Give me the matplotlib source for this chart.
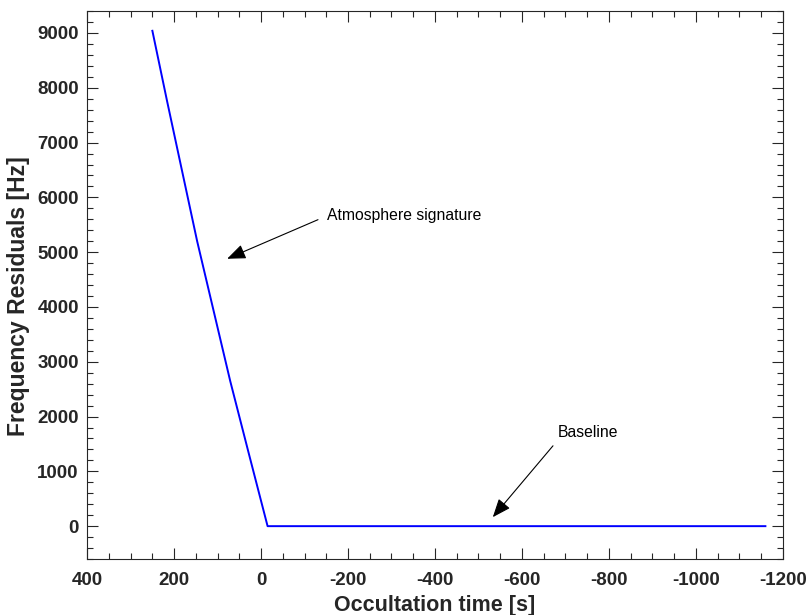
import matplotlib
matplotlib.use("Agg")
import matplotlib.pyplot as plt
from matplotlib.ticker import MultipleLocator

# occultation time [s] and frequency residuals [Hz]
t = [250, 216, 147, 71, 29, -15, -1160]
res = [9040, 7750, 5200, 2650, 1350, 0, 0]

plt.rcParams['font.family'] = ['Liberation Sans', 'DejaVu Sans']
plt.rcParams['axes.unicode_minus'] = False

fig = plt.figure(figsize=(8.07, 6.15), dpi=100)
ax = fig.add_axes([0.108, 0.091, 0.862, 0.891])

ax.plot(t, res, color=(0, 0, 1), linewidth=1.4)

ax.set_xlim(400, -1200)
ax.set_ylim(-600, 9400)
ax.xaxis.set_major_locator(MultipleLocator(200))
ax.xaxis.set_minor_locator(MultipleLocator(50))
ax.yaxis.set_major_locator(MultipleLocator(1000))
ax.yaxis.set_minor_locator(MultipleLocator(200))

grey = '#262626'
ax.tick_params(which='both', direction='in', top=True, right=True, colors=grey)
ax.tick_params(which='major', length=8, width=0.8, labelsize=13.5)
ax.tick_params(which='minor', length=4.5, width=0.8)
ax.tick_params(axis='x', which='major', pad=9)
ax.tick_params(axis='y', which='major', pad=6)
for lab in ax.get_xticklabels() + ax.get_yticklabels():
    lab.set_fontweight('bold')
for s in ax.spines.values():
    s.set_color(grey)
    s.set_linewidth(0.8)

ax.set_xlabel('Occultation time [s]', fontsize=15.5, fontweight='bold', color=grey, labelpad=5)
ax.set_ylabel('Frequency Residuals [Hz]', fontsize=16.5, fontweight='bold', color=grey, labelpad=5)
ax.yaxis.label.set_y(0.48)

head = '-|>,head_length=1.0,head_width=0.4'
ax.annotate('Atmosphere signature', xy=(78, 4880), xytext=(-152, 5665),
            fontsize=11.3, va='center', ha='left',
            arrowprops=dict(arrowstyle=head, color='black', lw=0.8,
                            shrinkA=5, shrinkB=0, relpos=(0, 0.5)))
ax.annotate('Baseline', xy=(-533, 164), xytext=(-683, 1712),
            fontsize=11.3, va='center', ha='left',
            arrowprops=dict(arrowstyle=head, color='black', lw=0.8,
                            shrinkA=3, shrinkB=0, relpos=(0, 0)))

fig.savefig('out.png', dpi=100)
